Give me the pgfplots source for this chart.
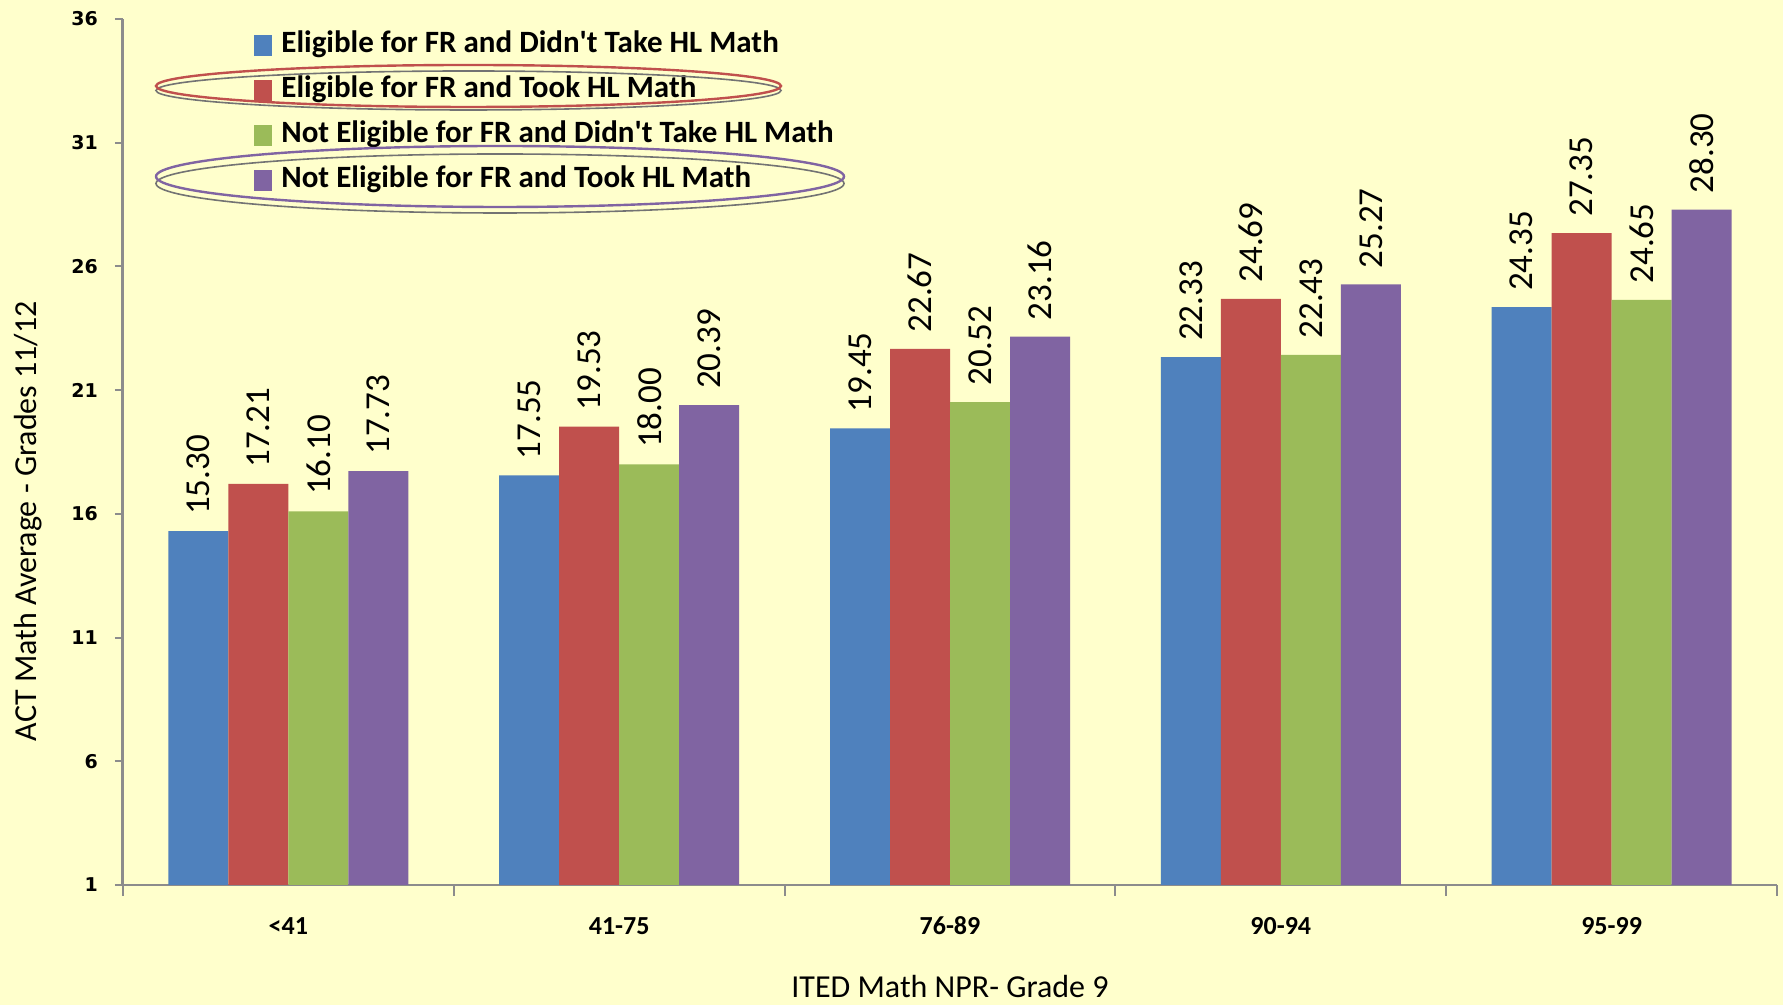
\documentclass[border=0pt]{standalone}
\usepackage{pgfplots}
\pgfplotsset{compat=1.18}
\usepackage{fontspec}
\setmainfont{Carlito}
\newfontfamily\tickfont{DejaVu Sans}
\definecolor{bg}{HTML}{FFFFCC}
\definecolor{cA}{HTML}{4F81BD}
\definecolor{cB}{HTML}{C0504D}
\definecolor{cC}{HTML}{9BBB59}
\definecolor{cD}{HTML}{8064A2}
\definecolor{axgray}{HTML}{8C8C8C}
\begin{document}
\begin{tikzpicture}
\fill[bg] (-61.5pt,-60pt) rectangle (830pt,442.5pt);
\begin{axis}[
  at={(0pt,0pt)}, anchor=south west,
  scale only axis, width=827pt, height=433pt,
  xmin=-0.5, xmax=4.5, ymin=1, ymax=36,
  ybar=0pt, bar width=30pt,
  axis lines*=left,
  separate axis lines,
  x axis line style={draw=axgray, line width=1pt},
  y axis line style={draw=axgray, line width=1.5pt},
  xtick={0,1,2,3,4}, xticklabels={<41,41-75,76-89,90-94,95-99},
  minor xtick={-0.5,0.5,1.5,2.5,3.5,4.5},
  major x tick style={draw=none},
  minor x tick style={draw=axgray, line width=1pt},
  minor tick length=5.5pt,
  ytick={1,6,11,16,21,26,31,36},
  major y tick style={draw=axgray, line width=1pt},
  major tick length=4pt,
  tick align=outside,
  /pgf/number format/assume math mode=true,
  yticklabel style={font=\tickfont\bfseries\fontsize{9.5}{11}\selectfont, anchor=east, xshift=-5pt},
  xticklabel style={font=\bfseries\fontsize{13}{15}\selectfont, anchor=center, yshift=-16.5pt},
  xlabel={ITED Math NPR- Grade 9},
  xlabel style={font=\fontsize{16}{18}\selectfont, at={(rel axis cs:0.5,-0.1170)}, anchor=center},
  ylabel={ACT Math Average - Grades 11/12},
  ylabel style={font=\fontsize{16}{18}\selectfont, at={(rel axis cs:-0.0574,0.42)}, anchor=center},
  nodes near coords={\pgfmathprintnumber[fixed,fixed zerofill,precision=2]{\pgfplotspointmeta}},
  every node near coord/.append style={rotate=90, anchor=west, font=\fontsize{17.5}{20}\selectfont, inner xsep=8pt, inner ysep=0pt, black},
  legend cell align=left,
  legend image code/.code={\fill[#1] (0pt,-5.25pt) rectangle (8.75pt,5.25pt);},
  legend style={at={(rel axis cs:0.0792,0.985)}, anchor=north west, draw=none, fill=none,
    font=\bfseries\fontsize{15.5}{17}\selectfont, inner sep=0pt, row sep=9.5pt, column sep=4.75pt,
    nodes={inner sep=0pt, text height=10pt, text depth=3pt}},
]
\addplot[fill=cA, draw=none] coordinates {(0,15.30) (1,17.55) (2,19.45) (3,22.33) (4,24.35)};
\addplot[fill=cB, draw=none] coordinates {(0,17.21) (1,19.53) (2,22.67) (3,24.69) (4,27.35)};
\addplot[fill=cC, draw=none] coordinates {(0,16.10) (1,18.00) (2,20.52) (3,22.43) (4,24.65)};
\addplot[fill=cD, draw=none] coordinates {(0,17.73) (1,20.39) (2,23.16) (3,25.27) (4,28.30)};
\legend{Eligible for FR and Didn\textquotesingle t Take HL Math, Eligible for FR and Took HL Math, Not Eligible for FR and Didn\textquotesingle t Take HL Math, Not Eligible for FR and Took HL Math}
\end{axis}
\draw[black!55, line width=0.8pt] (172.75pt,397.25pt) ellipse [x radius=156.25pt, y radius=9.75pt];
\draw[cB, line width=1.2pt] (172.75pt,399.5pt) ellipse [x radius=156.25pt, y radius=10.5pt];
\draw[black!55, line width=0.8pt] (188.5pt,350.75pt) ellipse [x radius=172pt, y radius=14.75pt];
\draw[cD, line width=1.2pt] (188.5pt,354.25pt) ellipse [x radius=172pt, y radius=15.25pt];
\pgfresetboundingbox
\path[use as bounding box] (-61.5pt,-60pt) rectangle (830pt,442.5pt);
\end{tikzpicture}
\end{document}
